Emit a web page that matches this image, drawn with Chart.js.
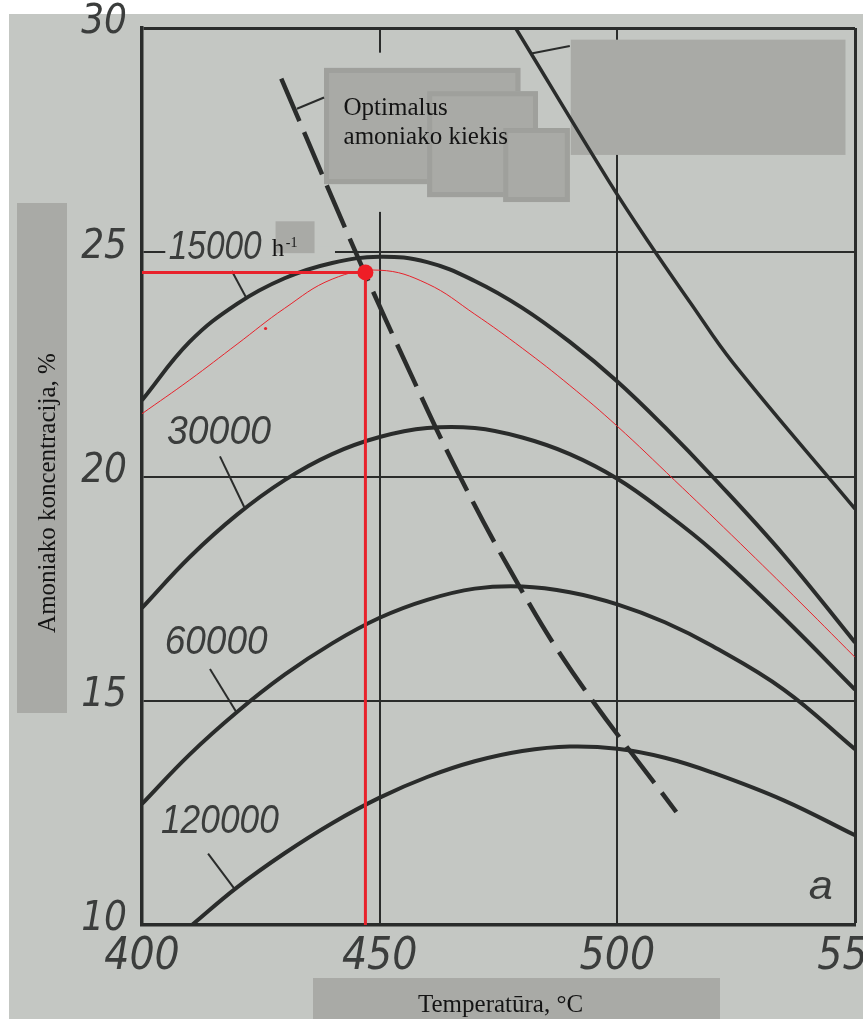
<!DOCTYPE html>
<html>
<head>
<meta charset="utf-8">
<script src="https://cdn.jsdelivr.net/npm/chart.js@4.4.1/dist/chart.umd.min.js"></script>
<style>
  html, body { margin: 0; padding: 0; background: #fff; }
  canvas { display: block; }
</style>
</head>
<body>
<canvas id="chart" width="863" height="1019"></canvas>
<script>
// axes: temperature (°C) and ammonia concentration (%)
const tempTicks = [400, 450, 500, 550];
const concTicks = [10, 15, 20, 25, 30];

// space velocity curves (h-1)
const temps = [400, 410, 420, 430, 440, 450, 460, 470, 480, 490, 500, 510, 520, 535, 550];
const c15000 = [21.7, 23.0, 23.85, 24.42, 24.76, 24.9, 24.78, 24.36, 23.76, 23.0, 22.12, 21.1, 20.0, 18.25, 16.3];
const c30000 = [17.07, 18.2, 19.15, 19.92, 20.5, 20.88, 21.08, 21.08, 20.87, 20.5, 19.95, 19.2, 18.35, 16.85, 15.25];
const c60000 = [12.7, 13.8, 14.75, 15.58, 16.28, 16.85, 17.25, 17.5, 17.55, 17.42, 17.15, 16.75, 16.22, 15.25, 13.92];

const t120000 = [410.5, 420, 430, 440, 450, 460, 470, 480, 490, 500, 510, 520, 535, 550];
const c120000 = [10, 10.84, 11.6, 12.27, 12.84, 13.3, 13.65, 13.88, 13.98, 13.93, 13.73, 13.4, 12.78, 12.0];

// unlabelled steep curve (its label is hidden under the grey patch)
const tSteep = [478.6, 498.3, 506.8, 515.4, 524.3, 550];
const cSteep = [30, 26.57, 25.19, 23.87, 22.54, 19.28];

// dashed line: optimal ammonia content
const tOptimal = [429.3, 445.7, 456.7, 465.6, 477.5, 490.6, 512.4];
const cOptimal = [28.87, 24.82, 22.25, 20.27, 17.90, 15.63, 12.52];

// red hand-drawn curve and the reading of the optimum
const tRed = [400, 410, 420, 430, 440, 450, 460, 470, 480, 490, 500, 512, 524, 537, 550];
const cRed = [21.4, 22.15, 22.95, 23.75, 24.4, 24.6, 24.3, 23.62, 22.86, 22.03, 21.12, 19.92, 18.7, 17.35, 15.97];
const optimumT = 447;
const optimumC = 24.55;
const strayDotT = 426;
const strayDotC = 23.3;

// leader strokes from the labels to the curves
const leaders = [
  { t: [418.9, 421.9], c: [24.58, 23.99] },
  { t: [416.4, 421.5], c: [20.45, 19.32] },
  { t: [414.3, 419.9], c: [15.71, 14.74] },
  { t: [413.9, 419.5], c: [11.59, 10.8] },
  { t: [432.6, 438.3], c: [28.2, 28.45] },
  { t: [481.9, 490], c: [29.43, 29.6] }
];

// label anchors (in axis units)
const curveNames = ['15000', '30000', '60000', '120000'];
const curveNameT = [415.4, 416.2, 415.6, 416.4];
const curveNameC = [25.10, 20.98, 16.30, 12.29];

const INK = '#2a2c2b';
const PRINT = '#3b3d3c';
const PAPER = '#c4c7c3';
const PATCH = '#a9aaa6';
const PATCH_EDGE = '#9fa09c';
const RED = '#e8222b';
const SANS = "'Liberation Sans', 'DejaVu Sans', sans-serif";
const TICK_FONT = "'Liberation Sans Narrow', 'DejaVu Sans Condensed', 'Liberation Sans', sans-serif";
const SERIF = "'Liberation Serif', 'DejaVu Serif', serif";

function pts(xs, ys) {
  return xs.map(function (x, i) { return { x: x, y: ys[i] }; });
}

function curve(label, xs, ys, extra) {
  return Object.assign({
    label: label,
    data: pts(xs, ys),
    borderColor: INK,
    borderWidth: 4,
    pointRadius: 0,
    fill: false,
    tension: 0.4
  }, extra || {});
}

function dataRect(chart, t0, t1, c0, c1) {
  const x = chart.scales.x, y = chart.scales.y;
  const l = x.getPixelForValue(t0), r = x.getPixelForValue(t1);
  const top = y.getPixelForValue(c1), b = y.getPixelForValue(c0);
  return [l, top, r - l, b - top];
}

function fitText(ctx, str, cx, cy, width, size) {
  ctx.save();
  ctx.font = 'italic ' + size + 'px ' + SANS;
  const w = ctx.measureText(str).width;
  ctx.translate(cx, cy);
  ctx.scale(width / w, 1);
  ctx.textAlign = 'center';
  ctx.textBaseline = 'middle';
  ctx.fillText(str, 0, 0);
  ctx.restore();
}

const paperPlugin = {
  id: 'paper',
  beforeDraw(chart) {
    const ctx = chart.ctx;
    ctx.save();
    ctx.fillStyle = PAPER;
    ctx.fillRect(0, 0, chart.width, chart.height);
    ctx.fillStyle = '#ffffff';
    ctx.fillRect(0, 0, chart.width, 14);
    ctx.fillRect(0, 0, 9, chart.height);
    ctx.restore();
  }
};

// grey patches and gaps in the grid, under the curves
const patchPlugin = {
  id: 'patches',
  beforeDatasetsDraw(chart) {
    const ctx = chart.ctx;
    ctx.save();
    ctx.fillStyle = PAPER;
    ctx.fillRect.apply(ctx, dataRect(chart, 404.9, 440.6, 24.88, 25.12));
    ctx.fillRect.apply(ctx, dataRect(chart, 449.3, 450.7, 25.9, 29.45));

    ctx.fillStyle = PATCH;
    ctx.fillRect.apply(ctx, dataRect(chart, 490.2, 548, 27.17, 29.74));

    ctx.strokeStyle = PATCH_EDGE;
    ctx.lineWidth = 5;
    [[438.3, 479.6, 26.52, 29.11], [460, 483.3, 26.23, 28.59], [476, 490, 26.12, 27.77]].forEach(function (b) {
      const r = dataRect(chart, b[0], b[1], b[2], b[3]);
      ctx.fillRect(r[0], r[1], r[2], r[3]);
      ctx.strokeRect(r[0] + 2.5, r[1] + 2.5, r[2] - 5, r[3] - 5);
    });
    ctx.fillRect.apply(ctx, dataRect(chart, 428.1, 436.3, 24.98, 25.69));
    ctx.restore();
  }
};

// printed labels over the curves
const labelPlugin = {
  id: 'labels',
  afterDatasetsDraw(chart) {
    const ctx = chart.ctx;
    const x = chart.scales.x, y = chart.scales.y;
    ctx.save();
    ctx.fillStyle = PRINT;
    const widths = [93, 104, 103, 118];
    curveNames.forEach(function (name, i) {
      fitText(ctx, name, x.getPixelForValue(curveNameT[i]), y.getPixelForValue(curveNameC[i]), widths[i], 40);
    });
    fitText(ctx, 'a', x.getPixelForValue(542.8), y.getPixelForValue(10.82), 24, 40);

    ctx.fillStyle = '#141414';
    ctx.textAlign = 'left';
    ctx.textBaseline = 'alphabetic';
    const hx = x.getPixelForValue(427.3), hy = y.getPixelForValue(24.91);
    ctx.font = '25px ' + SERIF;
    ctx.fillText('h', hx, hy);
    ctx.font = '14px ' + SERIF;
    ctx.fillText('-1', hx + 14, hy - 9);

    const ox = x.getPixelForValue(442.4), oy = y.getPixelForValue(28.06);
    ctx.font = '25px ' + SERIF;
    ctx.fillText('Optimalus', ox, oy);
    ctx.fillText('amoniako kiekis', ox, oy + 29);
    ctx.restore();
  }
};

// axis titles on their grey patches
const titlePlugin = {
  id: 'titles',
  afterDraw(chart) {
    const ctx = chart.ctx;
    ctx.save();
    ctx.fillStyle = PATCH;
    ctx.fillRect(17, 203, 50, 510);
    ctx.fillRect(313, 978, 407, 41);
    ctx.fillStyle = '#141414';
    ctx.font = '25px ' + SERIF;
    ctx.textBaseline = 'alphabetic';
    ctx.textAlign = 'left';
    ctx.fillText('Temperatūra, °C', 418, 1012);
    ctx.translate(55, 493);
    ctx.rotate(-Math.PI / 2);
    ctx.textAlign = 'center';
    ctx.fillText('Amoniako koncentracija, %', 0, 0);
    ctx.restore();
  }
};

const red = { borderColor: RED, tension: 0 };

new Chart(document.getElementById('chart'), {
  type: 'line',
  data: {
    datasets: [
      {
        label: 'optimum', data: pts([optimumT], [optimumC]), showLine: false,
        pointRadius: 8, pointBackgroundColor: '#ef1d26', pointBorderWidth: 0
      },
      {
        label: 'dot', data: pts([strayDotT], [strayDotC]), showLine: false,
        pointRadius: 1.6, pointBackgroundColor: RED, pointBorderWidth: 0
      },
      curve('optimum-h', [400, optimumT], [optimumC, optimumC], Object.assign({ borderWidth: 3 }, red)),
      curve('optimum-v', [optimumT, optimumT], [optimumC, 10], Object.assign({ borderWidth: 3 }, red)),
      curve('red', tRed, cRed, { borderColor: RED, borderWidth: 1 }),
      curve('15000', temps, c15000),
      curve('30000', temps, c30000),
      curve('60000', temps, c60000),
      curve('120000', t120000, c120000),
      curve('steep', tSteep, cSteep, { borderWidth: 3.5 }),
      curve('optimal', tOptimal, cOptimal, { borderWidth: 4.5, borderDash: [46, 12] })
    ].concat(leaders.map(function (l, i) {
      return curve('leader' + i, l.t, l.c, { borderWidth: 2, tension: 0 });
    }))
  },
  options: {
    responsive: false,
    animation: false,
    events: [],
    layout: { padding: { top: 28, right: 6, left: 0, bottom: 0 } },
    plugins: { legend: { display: false }, tooltip: { enabled: false } },
    scales: {
      x: {
        type: 'linear', min: 400, max: 550,
        afterBuildTicks: function (s) { s.ticks = tempTicks.map(function (v) { return { value: v }; }); },
        afterFit: function (s) { s.height = 94; s.paddingLeft = 0; s.paddingRight = 0; },
        grid: {
          color: INK, drawTicks: false,
          lineWidth: function (c) { return c.tick && c.tick.value === 550 ? 3 : 2; }
        },
        border: { color: INK, width: 3.5 },
        ticks: {
          color: PRINT, padding: 6, maxRotation: 0, autoSkip: false,
          font: { family: TICK_FONT, size: 44, style: 'italic' }
        }
      },
      y: {
        type: 'linear', min: 10, max: 30,
        afterBuildTicks: function (s) { s.ticks = concTicks.map(function (v) { return { value: v }; }); },
        afterFit: function (s) { s.width = 142; s.paddingTop = 0; s.paddingBottom = 0; },
        grid: {
          color: INK, drawTicks: false,
          lineWidth: function (c) { return c.tick && c.tick.value === 30 ? 3 : 2; }
        },
        border: { color: INK, width: 3.5 },
        ticks: {
          color: PRINT, padding: 15, autoSkip: false, labelOffset: -5,
          font: { family: TICK_FONT, size: 40, style: 'italic' }
        }
      }
    }
  },
  plugins: [paperPlugin, patchPlugin, labelPlugin, titlePlugin]
});
</script>
</body>
</html>
